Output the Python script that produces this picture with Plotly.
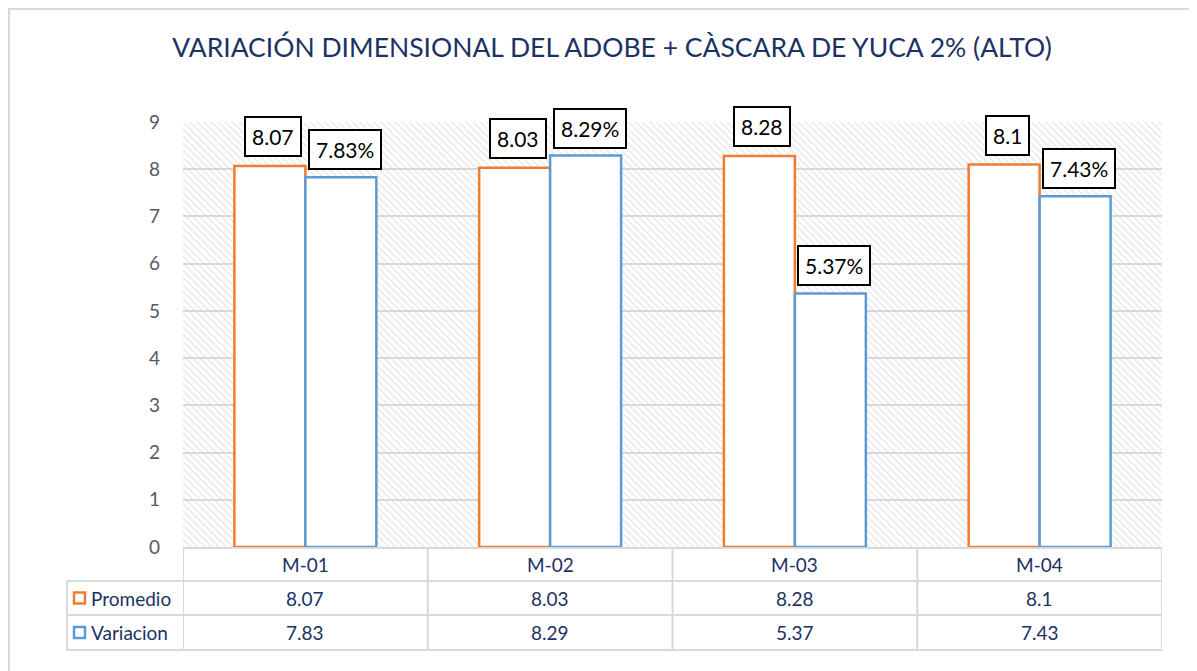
import plotly.graph_objects as go

categories = ["M-01", "M-02", "M-03", "M-04"]
promedio = [8.07, 8.03, 8.28, 8.1]
variacion = [7.83, 8.29, 5.37, 7.43]
promedio_labels = ["8.07", "8.03", "8.28", "8.1"]
variacion_labels = ["7.83%", "8.29%", "5.37%", "7.43%"]
table_promedio = ["8.07", "8.03", "8.28", "8.1"]
table_variacion = ["7.83", "8.29", "5.37", "7.43"]
yticks = list(range(0, 10))
title = "VARIACIÓN DIMENSIONAL DEL ADOBE + CÀSCARA DE YUCA 2% (ALTO)"

ORANGE = "#ED7D31"
BLUE = "#5B9BD5"
NAVY = "#1B3263"
GRID = "#d9d9d9"
FONT = "Lato"

# page offset (body margin) compensation
OFF = 8
PAGE_W, PAGE_H = 1197, 671
W_FIG, H_FIG = PAGE_W - OFF, PAGE_H - OFF
L, R, T, B = 183, 1162, 122, 547   # page coordinates of plot area
PW, PH = R - L, B - T


def px(x):
    return (x - L) / PW


def py(y):
    return (B - y) / PH


fig = go.Figure()

# hatched plot-area background
fig.add_trace(go.Bar(
    x=[1.5], y=[9], width=[4], xaxis="x", yaxis="y",
    marker=dict(color="rgba(0,0,0,0)", line=dict(width=0),
                pattern=dict(shape="\\", fgcolor="#d3d3d3", bgcolor="rgba(0,0,0,0)",
                             size=5, solidity=0.3)),
    hoverinfo="skip", showlegend=False,
))

fig.add_trace(go.Bar(
    x=categories, y=promedio, name="Promedio", xaxis="x2", yaxis="y2",
    marker=dict(color="white", line=dict(color=ORANGE, width=2.5)),
    showlegend=False,
))
fig.add_trace(go.Bar(
    x=categories, y=variacion, name="Variacion", xaxis="x2", yaxis="y2",
    marker=dict(color="white", line=dict(color=BLUE, width=2.5)),
    showlegend=False,
))

annotations = []
shapes = []
half = (PW / 4) * 0.29 / 2

lab_font = dict(family=FONT, size=21, color="black")
for c, v, t in zip(categories, promedio, promedio_labels):
    annotations.append(dict(x=c, y=v, xref="x2", yref="y2", text=t, showarrow=False,
                            xshift=-half + 3, yshift=9, yanchor="bottom", xanchor="center",
                            font=lab_font, bgcolor="white", bordercolor="black",
                            borderwidth=2, borderpad=6))
for c, v, t in zip(categories, variacion, variacion_labels):
    annotations.append(dict(x=c, y=v, xref="x2", yref="y2", text=t, showarrow=False,
                            xshift=half + 4, yshift=7, yanchor="bottom", xanchor="center",
                            font=lab_font, bgcolor="white", bordercolor="black",
                            borderwidth=2, borderpad=6))

# data table
line = dict(color=GRID, width=2)
rows_y = [548, 581, 615, 650]
shapes.append(dict(type="line", xref="paper", yref="paper", x0=px(183), x1=px(1162),
                   y0=py(548), y1=py(548), line=line))
for yy in rows_y[1:]:
    shapes.append(dict(type="line", xref="paper", yref="paper", x0=px(67), x1=px(1162),
                       y0=py(yy), y1=py(yy), line=line))
shapes.append(dict(type="line", xref="paper", yref="paper", x0=px(67), x1=px(67),
                   y0=py(581), y1=py(650), line=line))
for i in range(len(categories) + 1):
    shapes.append(dict(type="line", xref="x", yref="paper", x0=i - 0.5, x1=i - 0.5,
                       y0=py(548), y1=py(650), line=line))

tfont = dict(family=FONT, size=19, color=NAVY)
for i, c in enumerate(categories):
    for yc, txt in [(564.5, c), (598, table_promedio[i]), (632.5, table_variacion[i])]:
        annotations.append(dict(x=i, y=py(yc), xref="x", yref="paper", text=txt,
                                showarrow=False, font=tfont, xanchor="center",
                                yanchor="middle"))

# legend keys in table
for yc, col, name in [(598, ORANGE, "Promedio"), (632.5, BLUE, "Variacion")]:
    shapes.append(dict(type="rect", xref="paper", yref="paper", x0=px(74), x1=px(85),
                       y0=py(yc - 5.5), y1=py(yc + 5.5), line=dict(color=col, width=2.5),
                       fillcolor="white"))
    annotations.append(dict(x=px(89), y=py(yc), xref="paper", yref="paper", text=name,
                            showarrow=False, xanchor="left", yanchor="middle", font=tfont))

# outer chart border
shapes.append(dict(type="rect", xref="paper", yref="paper", x0=px(9), x1=px(1215),
                   y0=py(9), y1=py(700), line=dict(color=GRID, width=2), layer="below"))

fig.update_layout(
    width=W_FIG, height=H_FIG,
    margin=dict(l=L - OFF, r=PAGE_W - R, t=T - OFF, b=PAGE_H - B, pad=0),
    paper_bgcolor="white", plot_bgcolor="white",
    title=dict(text=title, x=px(612), xref="paper", xanchor="center",
               y=1 - (48 - OFF) / H_FIG, yref="container",
               yanchor="middle", font=dict(family=FONT, size=26.5, color=NAVY)),
    barmode="group", bargap=0.42, bargroupgap=0,
    xaxis=dict(range=[-0.5, 3.5], showgrid=False, showticklabels=False, zeroline=False,
               showline=False, fixedrange=True),
    yaxis=dict(range=[0, 9], tickvals=yticks, showgrid=True, gridcolor=GRID, gridwidth=2,
               zeroline=False, showline=False, ticks="", ticklabelstandoff=22,
               tickfont=dict(family=FONT, size=19, color="#595959")),
    xaxis2=dict(overlaying="x", range=[-0.5, 3.5], visible=False, type="category",
                categoryarray=categories),
    yaxis2=dict(overlaying="y", range=[0, 9], visible=False),
    annotations=annotations, shapes=shapes,
)

fig.write_html("out.html")
